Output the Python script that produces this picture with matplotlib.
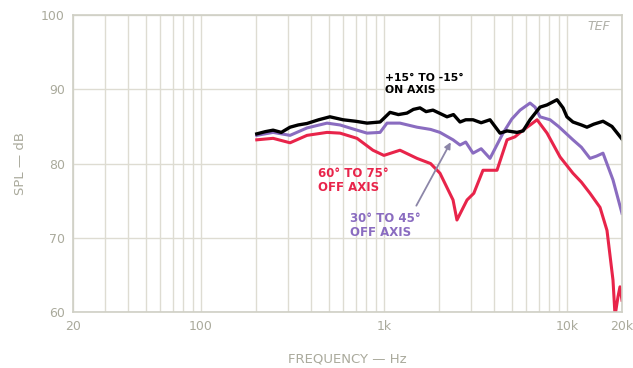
import matplotlib
matplotlib.use("Agg")
import matplotlib.pyplot as plt
from matplotlib.ticker import FixedLocator, NullFormatter

# Frecuencias (Hz) y niveles (dB)
on_axis_f = [202, 225, 248, 275, 307, 340, 380, 440, 507, 598, 700, 809, 953, 1080, 1200, 1337,
             1450, 1575, 1700, 1854, 2212, 2400, 2606, 2800, 3069, 3400, 3800, 4310, 4710,
             5340, 5760, 6290, 7130, 7790, 8830, 9530, 10000, 10790, 12000, 12870, 14000,
             15750, 17630, 20000]
on_axis_db = [84.0, 84.3, 84.5, 84.2, 84.9, 85.2, 85.4, 85.9, 86.3, 85.9, 85.7, 85.45, 85.6, 86.9,
              86.6, 86.8, 87.3, 87.5, 87.0, 87.2, 86.3, 86.6, 85.6, 85.9, 85.9, 85.5, 85.9,
              84.1, 84.4, 84.2, 84.4, 85.9, 87.6, 87.9, 88.6, 87.5, 86.3, 85.6, 85.2, 84.9,
              85.3, 85.7, 85.0, 83.3]

off30_f = [202, 248, 307, 380, 489, 576, 713, 809, 953, 1040, 1224, 1517, 1800, 2025, 2387,
           2606, 2800, 3069, 3400, 3800, 4477, 5000, 5548, 6290, 6700, 7130, 8090, 9000,
           10790, 12000, 13370, 14500, 15750, 17860, 20000]
off30_db = [83.8, 84.2, 83.8, 84.8, 85.45, 85.2, 84.5, 84.1, 84.2, 85.45, 85.45, 84.9, 84.6, 84.2,
            83.2, 82.5, 82.9, 81.4, 82.0, 80.7, 84.1, 86.0, 87.2, 88.15, 87.6, 86.3, 85.9, 85.0,
            83.2, 82.2, 80.7, 81.0, 81.4, 77.8, 73.3]

off60_f = [202, 248, 307, 380, 489, 576, 713, 871, 1000, 1224, 1517, 1800, 2025, 2387, 2507,
           2847, 3100, 3479, 4150, 4710, 5200, 5760, 6300, 6870, 7790, 9170, 10790, 12000,
           13370, 15170, 16560, 17860, 18330, 19000, 19500, 20000]
off60_db = [83.2, 83.4, 82.8, 83.8, 84.2, 84.1, 83.4, 81.8, 81.1, 81.8, 80.7, 80.0, 78.7, 75.1,
            72.4, 75.1, 76.0, 79.1, 79.1, 83.2, 83.6, 84.5, 85.2, 85.9, 84.1, 80.9, 78.7, 77.5,
            76.0, 74.1, 71.0, 64.3, 59.5, 62.0, 63.4, 61.6]

x_ticks = [20, 100, 1000, 10000, 20000]
x_tick_labels = ["20", "100", "1k", "10k", "20k"]
y_ticks = [60, 70, 80, 90, 100]

label_color = "#aaaa9c"
grid_color = "#dedcd2"

fig = plt.figure(figsize=(6.33, 3.68), dpi=100)
ax = fig.add_axes([0.1153, 0.152, 0.8673, 0.807])

ax.set_xscale("log")
ax.set_xlim(20, 20000)
ax.set_ylim(60, 100)

# rejilla
minor = [m * 10 ** e for e in range(1, 5) for m in range(2, 10) if 20 <= m * 10 ** e <= 20000]
ax.xaxis.set_major_locator(FixedLocator(x_ticks))
ax.xaxis.set_minor_locator(FixedLocator(minor))
ax.xaxis.set_minor_formatter(NullFormatter())
ax.set_xticklabels(x_tick_labels)
ax.set_yticks(y_ticks)
ax.grid(True, which="both", axis="x", color=grid_color, lw=1.0)
ax.grid(True, which="major", axis="y", color=grid_color, lw=1.0)
ax.tick_params(which="both", length=0, colors=label_color, labelsize=9, pad=6)
for s in ax.spines.values():
    s.set_color("#cfcfc5")
    s.set_linewidth(1.2)

ax.plot(off60_f, off60_db, color="#e8244a", lw=2.2)
ax.plot(off30_f, off30_db, color="#8a6cc0", lw=2.2)
ax.plot(on_axis_f, on_axis_db, color="black", lw=2.4)

ax.text(1014, 92.2, "+15° TO -15°\nON AXIS", color="black", fontsize=7.8,
        fontweight="bold", va="top", ha="left", linespacing=1.2)
ax.text(437, 79.5, "60° TO 75°\nOFF AXIS", color="#e8244a", fontsize=8.5,
        fontweight="bold", va="top", ha="left", linespacing=1.1)
ax.text(653, 73.5, "30° TO 45°\nOFF AXIS", color="#8a6cc0", fontsize=8.5,
        fontweight="bold", va="top", ha="left", linespacing=1.1)
ax.annotate("", xy=(2356, 83.2), xytext=(1479, 74.0),
            arrowprops=dict(arrowstyle="-|>", color="#8c86a8", lw=1.3, mutation_scale=9))
ax.text(15000, 98.0, "TEF", color="#b0b0a8", fontsize=9, style="italic", ha="center")

ax.set_xlabel("FREQUENCY — Hz", color=label_color, fontsize=9.5, labelpad=14)
ax.set_ylabel("SPL — dB", color=label_color, fontsize=9.5, labelpad=10)

fig.savefig("out.png", dpi=100)
